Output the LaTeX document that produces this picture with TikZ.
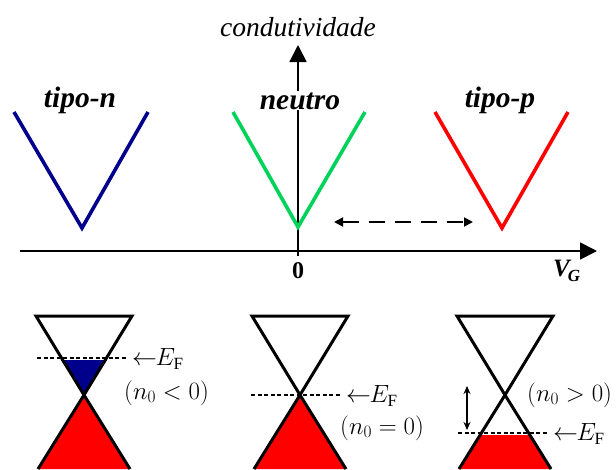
\documentclass[tikz,border=0pt]{standalone}
\usepackage{fontspec}
\setmainfont{Liberation Serif}
\usetikzlibrary{arrows.meta}
\definecolor{vblue}{RGB}{0,0,140}
\definecolor{vgreen}{RGB}{0,210,90}
\definecolor{vred}{RGB}{255,0,0}
\tikzset{
  vline/.style={line width=3.6pt, line join=miter},
  axis/.style={line width=1.8pt, -{Triangle[length=17pt,width=17pt]}},
  cone/.style={line width=3pt, line join=miter},
  fermi/.style={line width=1.3pt, dash pattern=on 4pt off 2.5pt},
  lbl/.style={font=\fontsize{29.5}{31}\selectfont\bfseries\itshape, fill=white, inner sep=1pt},
  ann/.style={font=\fontsize{24.5}{26}\selectfont, inner sep=0pt, anchor=west},
}
\newcommand{\EF}{$\mathord{\leftarrow}\mkern-1mu E_{\mathrm{F}}$}
\begin{document}
\begin{tikzpicture}[x=1pt,y=-1pt]
\useasboundingbox (0,0) rectangle (616,469);
% axes
\coordinate (hx0) at (20,251);
\coordinate (hx1) at (597,251);
\coordinate (vy0) at (298,256);
\coordinate (vy1) at (298,45);
\draw[axis] (hx0) -- (hx1);
\draw[axis] (vy0) -- (vy1);
\node[font=\fontsize{27.5}{29}\selectfont\itshape, anchor=base] (cond) at (298,36) {condutividade};
\node[font=\fontsize{24}{26}\selectfont\bfseries, anchor=base] (zero) at (298,278) {0};
\node[font=\fontsize{25}{27}\selectfont\bfseries\itshape, anchor=base west, inner sep=0pt] (vg) at (553,276) {V\raisebox{-5pt}{\fontsize{17}{18}\selectfont\kern-2pt G}};
% V curves
\draw[vline, vblue] (14,112) -- (82,228) -- (148,112);
\draw[vline, vgreen] (233,112) -- (298,227) -- (365,112);
\draw[vline, vred] (435,112) -- (502,228) -- (568,112);
\node[lbl, anchor=base] (tn) at (80,107) {tipo-n};
\node[lbl, anchor=base] (ne) at (300,109) {neutro};
\node[lbl, anchor=base] (tp) at (500,107) {tipo-p};
% dashed double arrow
\coordinate (da0) at (334,222);
\coordinate (da1) at (473,222);
\draw[line width=1.8pt, dash pattern=on 16pt off 10pt, {Triangle[length=9pt,width=9pt]}-{Triangle[length=9pt,width=9pt]}] (da0) -- (da1);

% cone 1 (n-type)
\fill[vred] (84,395) -- (38,469) -- (130,469) -- cycle;
\fill[vblue] (61,360) -- (107,360) -- (84,395) -- cycle;
\draw[cone] (36,316) -- (132,316) -- (84,395) -- cycle;
\draw[cone] (84,395) -- (38,469);
\draw[cone] (84,395) -- (130,469);
\draw[fermi] (37,358) -- (127,358);
\node[ann] (ef1) at (132,359) {\EF};
\node[ann] (n1) at (124,393) {$(n_0<0)$};

% cone 2 (neutral)
\fill[vred] (300,395) -- (254,469) -- (346,469) -- cycle;
\draw[cone] (252,316) -- (348,316) -- (300,395) -- cycle;
\draw[cone] (300,395) -- (254,469);
\draw[cone] (300,395) -- (346,469);
\draw[fermi] (251,395) -- (341,395);
\node[ann] (ef2) at (346,396) {\EF};
\node[ann] (n2) at (340,428) {$(n_0=0)$};

% cone 3 (p-type)
\fill[vred] (481,435) -- (529,435) -- (551,469) -- (459,469) -- cycle;
\draw[cone] (457,316) -- (553,316) -- (505,395) -- cycle;
\draw[cone] (505,395) -- (459,469);
\draw[cone] (505,395) -- (551,469);
\draw[fermi] (458,433) -- (548,433);
\node[ann] (ef3) at (553,434) {\EF};
\node[ann] (n3) at (527,395) {$(n_0>0)$};
\coordinate (s0) at (467,386);
\coordinate (s1) at (467,430);
\draw[line width=1.5pt, {Stealth[length=8pt,width=7pt]}-{Stealth[length=8pt,width=7pt]}] (s0) -- (s1);
\end{tikzpicture}
\end{document}
